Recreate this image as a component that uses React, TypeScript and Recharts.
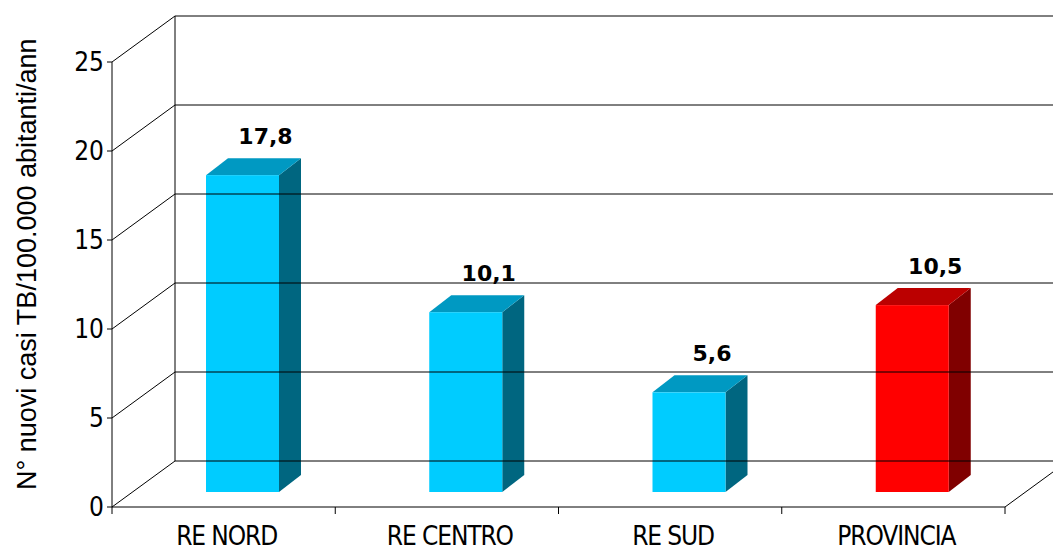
import React from 'react';
import { BarChart, Bar, XAxis, YAxis } from 'recharts';

const categories = ['RE NORD', 'RE CENTRO', 'RE SUD', 'PROVINCIA'];
const rates = [17.8, 10.1, 5.6, 10.5];
const labels = ['17,8', '10,1', '5,6', '10,5'];
const yTicks = [0, 5, 10, 15, 20, 25];

// front / top / side colours of each bar
const barColors = [
  ['#00CCFF', '#0099C2', '#006680'],
  ['#00CCFF', '#0099C2', '#006680'],
  ['#00CCFF', '#0099C2', '#006680'],
  ['#FF0000', '#BB0000', '#800000'],
];

const data = categories.map((c, i) => ({ name: c, value: rates[i], label: labels[i], colors: barColors[i] }));

const W = 1053;
const H = 547;
const PLOT_LEFT = 112;
const PLOT_RIGHT = 1005;
const PLOT_TOP = 62;
const PLOT_BOTTOM = 507;
const BAND = (PLOT_RIGHT - PLOT_LEFT) / categories.length;

// back wall offset
const DX = 63;
const DY = -46;
// bar front face offset into the depth, and bar depth
const SX = 19;
const SY = -15;
const BDX = 22;
const BDY = -17;

const tickFont = "'DejaVu Sans Condensed', 'DejaVu Sans', Tahoma, sans-serif";

const renderYTick = (props: any) => {
  const { y, payload } = props;
  const bx = PLOT_LEFT + DX;
  const by = y + DY;
  return (
    <g>
      <line x1={PLOT_LEFT} y1={y} x2={bx} y2={by} stroke="#000" strokeWidth={1} />
      <line x1={bx} y1={by} x2={W} y2={by} stroke="#000" strokeWidth={1} />
      {payload.value === 0 && (
        <line x1={bx} y1={by} x2={bx} y2={PLOT_TOP + DY} stroke="#000" strokeWidth={1} />
      )}
      <text x={104} y={y} dy="0.36em" textAnchor="end" fontSize={26} fontFamily={tickFont} fill="#000">
        {payload.value}
      </text>
    </g>
  );
};

const renderXTick = (props: any) => {
  const { x, payload, index } = props;
  const left = x - BAND / 2;
  const right = x + BAND / 2;
  const last = index === categories.length - 1;
  return (
    <g>
      <line x1={left} y1={PLOT_BOTTOM} x2={left} y2={PLOT_BOTTOM + 7} stroke="#000" strokeWidth={1} />
      {last && (
        <>
          <line x1={right} y1={PLOT_BOTTOM} x2={right} y2={PLOT_BOTTOM + 7} stroke="#000" strokeWidth={1} />
          <line x1={right} y1={PLOT_BOTTOM} x2={right + DX} y2={PLOT_BOTTOM + DY} stroke="#000" strokeWidth={1} />
        </>
      )}
      <text x={x + 3} y={PLOT_BOTTOM + 38} textAnchor="middle" fontSize={26} letterSpacing={-1.1} fontFamily={tickFont} fill="#000">
        {payload.value}
      </text>
    </g>
  );
};

const Bar3D = (props: any) => {
  const { x, y, width, height, payload } = props;
  const [front, top, side] = payload.colors;
  const fx = x + SX;
  const fy = y + SY;
  const topFace = `${fx},${fy} ${fx + BDX},${fy + BDY} ${fx + width + BDX},${fy + BDY} ${fx + width},${fy}`;
  const sideFace = `${fx + width},${fy} ${fx + width + BDX},${fy + BDY} ${fx + width + BDX},${fy + height + BDY} ${fx + width},${fy + height}`;
  return (
    <g>
      <polygon points={sideFace} fill={side} />
      <polygon points={topFace} fill={top} />
      <rect x={fx} y={fy} width={width} height={height} fill={front} />
      <text
        x={fx + width / 2 + 23}
        y={fy - 31}
        textAnchor="middle"
        fontSize={22}
        fontWeight="bold"
        fontFamily="'DejaVu Sans', Tahoma, sans-serif"
        fill="#000"
      >
        {payload.label}
      </text>
    </g>
  );
};

export default function App() {
  return (
    <div style={{ position: 'absolute', left: 0, top: 0, width: W, height: H, background: '#fff' }}>
      <BarChart
        width={W}
        height={H}
        data={data}
        margin={{ top: PLOT_TOP, right: W - PLOT_RIGHT, left: 0, bottom: 0 }}
        barSize={73}
      >
        <YAxis
          width={PLOT_LEFT}
          domain={[0, 25]}
          ticks={yTicks}
          interval={0}
          axisLine={{ stroke: '#000' }}
          tickLine={{ stroke: '#000' }}
          tickSize={5}
          tick={renderYTick}
        />
        <XAxis
          dataKey="name"
          height={H - PLOT_BOTTOM}
          axisLine={{ stroke: '#000' }}
          tickLine={false}
          interval={0}
          tick={renderXTick}
        />
        <Bar dataKey="value" shape={<Bar3D />} isAnimationActive={false} />
        <text
          transform={`translate(36, 490) rotate(-90)`}
          x={0}
          y={0}
          fontSize={27}
          fontFamily="'Liberation Sans', Arial, sans-serif"
          fill="#000"
        >
          N° nuovi casi TB/100.000 abitanti/ann
        </text>
      </BarChart>
    </div>
  );
}
